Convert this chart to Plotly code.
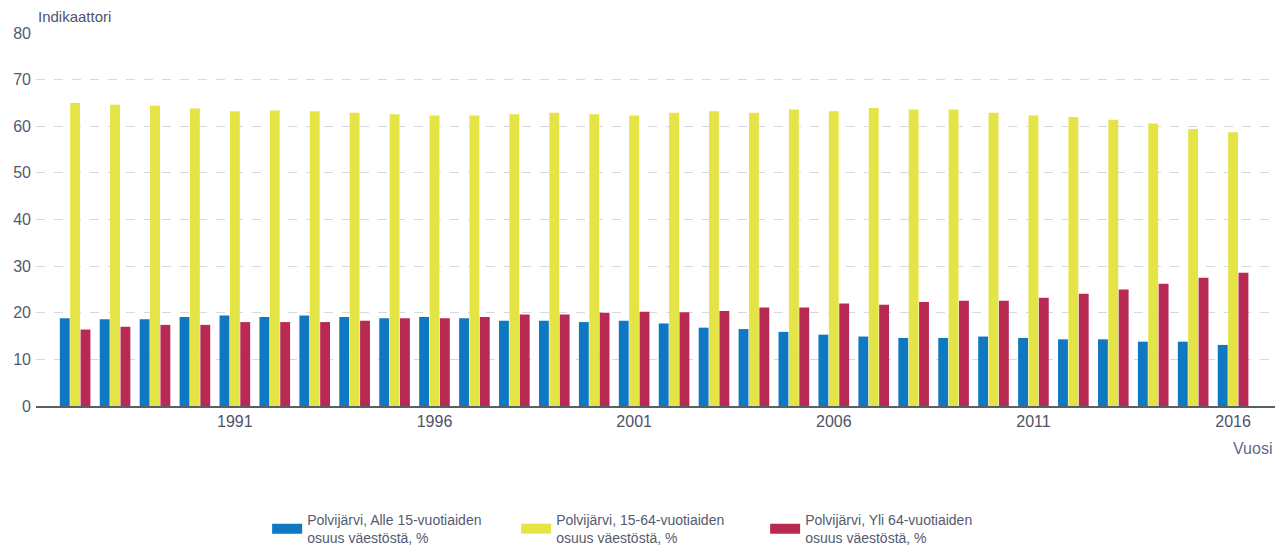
import plotly.graph_objects as go

years = list(range(1987, 2017))
alle15 = [18.8, 18.6, 18.6, 19.1, 19.4, 19.1, 19.4, 19.1, 18.8, 19.1,
          18.8, 18.3, 18.3, 18.0, 18.3, 17.7, 16.8, 16.5, 15.9, 15.3,
          14.9, 14.6, 14.6, 14.9, 14.6, 14.3, 14.3, 13.8, 13.8, 13.1]
v15_64 = [65.0, 64.6, 64.4, 63.8, 63.2, 63.4, 63.2, 62.9, 62.6, 62.3,
          62.3, 62.6, 62.9, 62.6, 62.3, 62.9, 63.2, 62.9, 63.6, 63.2,
          63.9, 63.6, 63.6, 62.9, 62.3, 62.0, 61.4, 60.6, 59.4, 58.7]
yli64 = [16.4, 17.0, 17.4, 17.4, 18.0, 18.0, 18.0, 18.3, 18.8, 18.8,
         19.1, 19.6, 19.6, 20.0, 20.2, 20.1, 20.4, 21.1, 21.1, 22.0,
         21.7, 22.3, 22.6, 22.6, 23.2, 24.1, 25.0, 26.2, 27.5, 28.6]
names = ["Polvijärvi, Alle 15-vuotiaiden<br>osuus väestöstä, %",
         "Polvijärvi, 15-64-vuotiaiden<br>osuus väestöstä, %",
         "Polvijärvi, Yli 64-vuotiaiden<br>osuus väestöstä, %"]
colors = ["#0f78c2", "#e4e446", "#b82a52"]
tick_years = [1991, 1996, 2001, 2006, 2011, 2016]

fig = go.Figure()
for i, (vals, nm, c) in enumerate(zip([alle15, v15_64, yli64], names, colors)):
    fig.add_trace(go.Bar(x=years, y=vals, name=nm, marker_color=c,
                         marker_line_width=0, showlegend=False,
                         legendgroup=f"g{i}"))
# legend-only entries with wide rectangular swatches
for i, (nm, c) in enumerate(zip(names, colors)):
    fig.add_trace(go.Scatter(x=[None], y=[None], mode="lines", name=nm,
                             line=dict(color=c, width=12), legendgroup=f"g{i}",
                             hoverinfo="skip"))

font_main = "Liberation Sans, Arial, sans-serif"
fig.update_layout(
    width=1283, height=546,
    margin=dict(l=36, r=8, t=33, b=140),
    paper_bgcolor="white", plot_bgcolor="white",
    barmode="group", bargap=0.22, bargroupgap=0.05,
    font=dict(family=font_main, color="#555a6e"),
    xaxis=dict(range=[1986.02, 2017.05], tickmode="array", tickvals=tick_years,
               ticktext=[str(t) for t in tick_years], showgrid=False,
               showline=True, linecolor="#5a5f66", linewidth=2,
               ticks="", tickfont=dict(size=16, color="#4f5268")),
    yaxis=dict(range=[0, 80], dtick=10, showgrid=True, gridcolor="#d6d9e2",
               griddash="dash", gridwidth=1, zeroline=False,
               tickfont=dict(size=16, color="#555a6e"), ticklabelstandoff=4),
    legend=dict(orientation="h", x=0.488, xanchor="center",
                yref="container", y=0.077, yanchor="top",
                font=dict(size=14, color="#555a6e"), itemwidth=30,
                entrywidth=204, traceorder="normal"),
    annotations=[
        dict(text="Indikaattori", xref="paper", yref="paper", x=0, y=1.045,
             xanchor="left", yanchor="middle", showarrow=False,
             font=dict(size=15, color="#4e5370")),
        dict(text="Vuosi", xref="paper", yref="paper", x=0.999, y=-0.115,
             xanchor="right", yanchor="middle", showarrow=False,
             font=dict(size=16, color="#5b6b8c")),
    ],
)

fig.write_html("out.html", post_script="document.body.style.margin='0';",
               config={"displayModeBar": False})
